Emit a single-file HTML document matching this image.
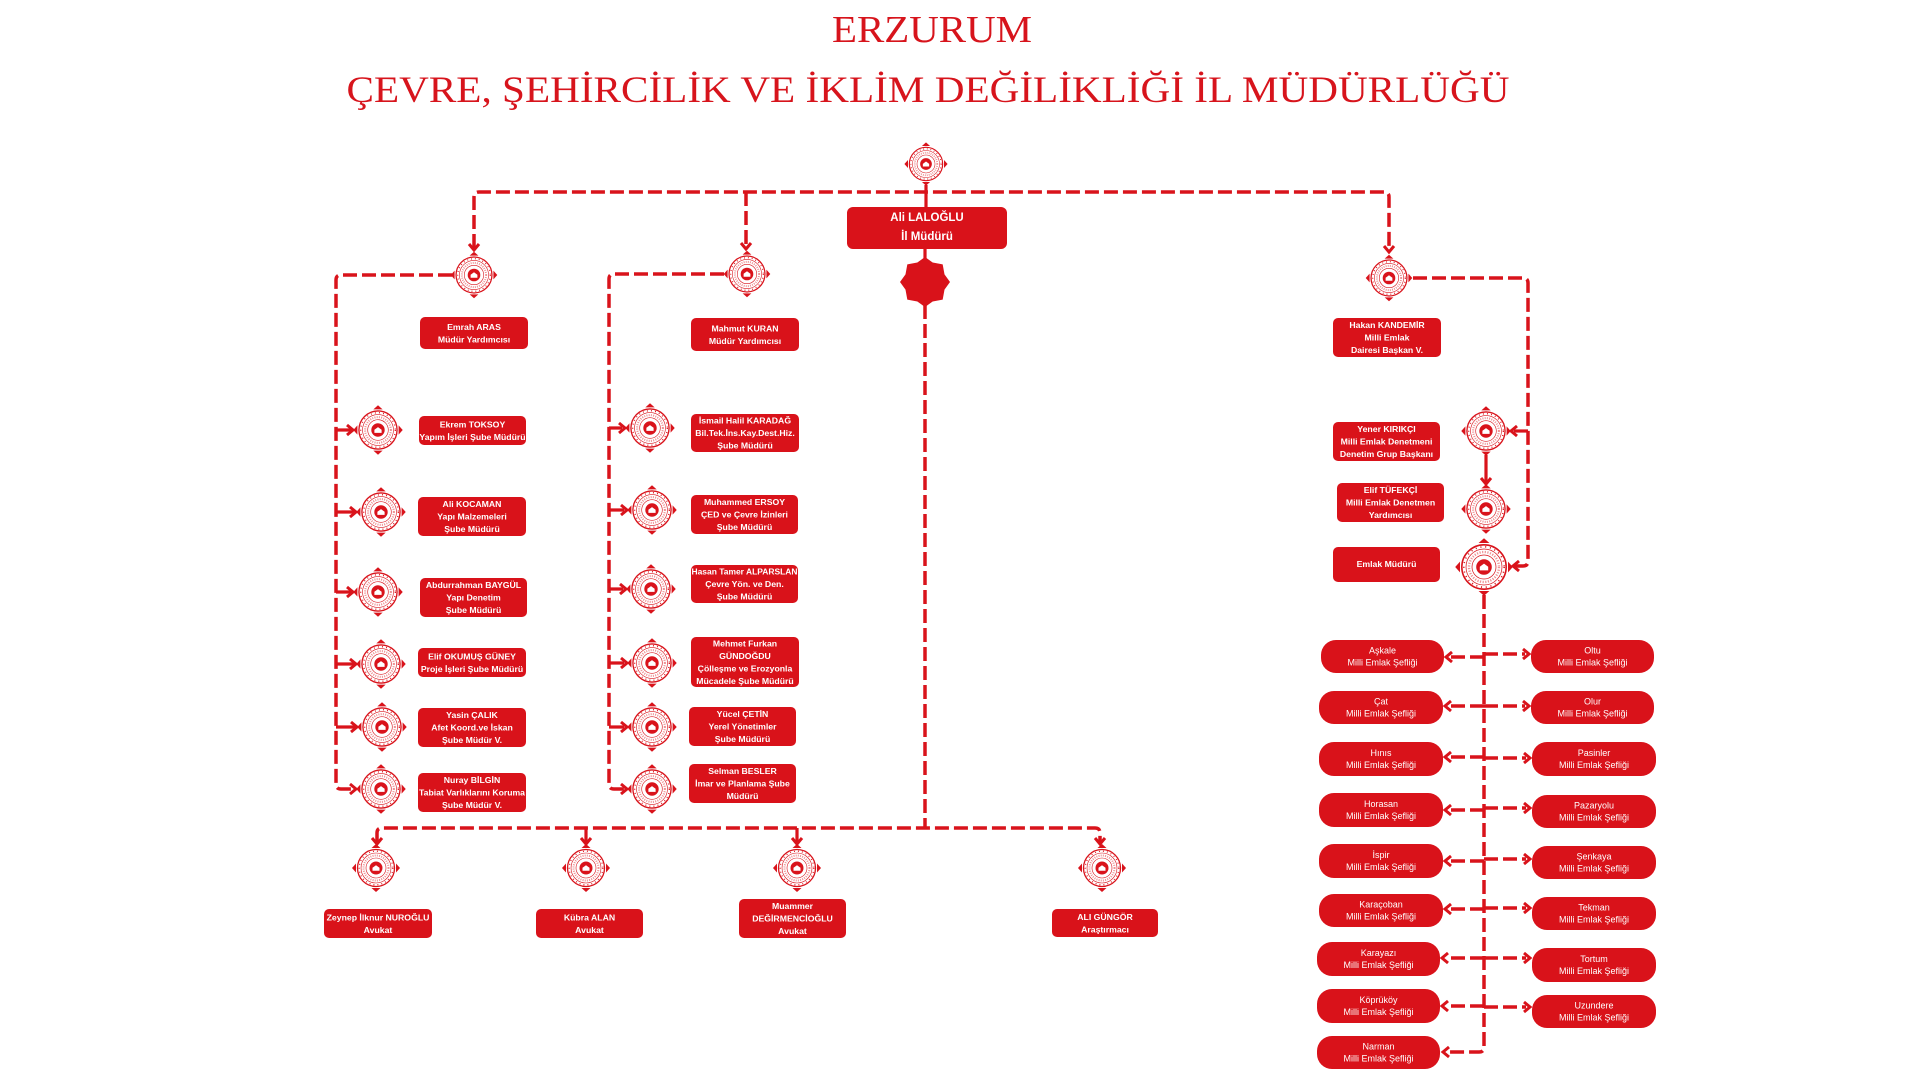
<!DOCTYPE html>
<html><head><meta charset="utf-8"><style>
html,body{margin:0;padding:0;background:#fff;width:1920px;height:1080px;overflow:hidden}
svg{display:block}
.t{font-family:"Liberation Sans",Arial,sans-serif;font-weight:bold;font-size:8.7px;fill:#fff;text-anchor:middle;dominant-baseline:central}
.s{font-family:"Liberation Sans",Arial,sans-serif;font-size:9px;fill:#fff;text-anchor:middle;dominant-baseline:central}
.d{fill:none;stroke:#d9131b;stroke-width:3.5;stroke-dasharray:14 5}
.l{fill:none;stroke:#d9131b;stroke-width:3.2}
.a{fill:none;stroke:#d9131b;stroke-width:3;stroke-linejoin:miter}
.b{fill:#d9121a}
</style></head><body>
<svg width="1920" height="1080" viewBox="0 0 1920 1080" xmlns="http://www.w3.org/2000/svg">
<defs>
<g id="em">
<polygon points="0,-24 -4.5,-20 4.5,-20" fill="#d9131b"/>
<polygon points="0,24 -4.5,20 4.5,20" fill="#d9131b"/>
<polygon points="-24,0 -20,-4.5 -20,4.5" fill="#d9131b"/>
<polygon points="24,0 20,-4.5 20,4.5" fill="#d9131b"/>
<circle r="18.5" fill="#fff" stroke="#d9131b" stroke-width="1.3"/>
<circle r="16.8" fill="none" stroke="#d9131b" stroke-width="1.3" stroke-dasharray="0.9 3.1"/>
<circle r="15" fill="none" stroke="#d9131b" stroke-width="0.6"/>
<circle r="12.5" fill="none" stroke="#e2474d" stroke-width="2" stroke-dasharray="1 1.2" opacity="0.6"/>
<circle r="10" fill="none" stroke="#d9131b" stroke-width="0.6"/>
<circle r="6.5" fill="#d9131b"/>
<path d="M-3.5,2.8 h7 v-3 l-3.5,-2.6 l-3.5,2.6z" fill="#fff"/>
</g>
</defs>

<!-- Titles -->
<text x="932" y="42" font-family="Liberation Serif, serif" font-size="38" fill="#d7141c" text-anchor="middle" textLength="200" lengthAdjust="spacingAndGlyphs">ERZURUM</text>
<text x="928" y="102" font-family="Liberation Serif, serif" font-size="37" fill="#d7141c" text-anchor="middle" textLength="1163" lengthAdjust="spacingAndGlyphs">ÇEVRE, ŞEHİRCİLİK VE İKLİM DEĞİLİKLİĞİ İL MÜDÜRLÜĞÜ</text>

<!-- Top connectors -->
<path class="d" d="M474,248 V197 Q474,192 479,192 H1384 Q1389,192 1389,197 V250"/>
<path class="d" d="M746,192 V247"/>
<polyline class="a" points="469,244 474,250 479,244"/>
<polyline class="a" points="741,243 746,249 751,243"/>
<polyline class="a" points="1384,246 1389,252 1394,246"/>
<path class="l" d="M926,185 V208"/>
<path class="l" d="M925,248 V260"/>
<path class="d" d="M925,305 V828"/>

<!-- Left group -->
<path class="d" d="M452,275 H341 Q336,275 336,280 V784 Q336,789 341,789 H354"/>
<path class="l" d="M336,430 H351 M336,512 H354 M336,592 H351 M336,664 H354 M336,727 H355"/>
<polyline class="a" points="347,425 353,430 347,435"/>
<polyline class="a" points="350,507 356,512 350,517"/>
<polyline class="a" points="347,587 353,592 347,597"/>
<polyline class="a" points="350,659 356,664 350,669"/>
<polyline class="a" points="351,722 357,727 351,732"/>
<polyline class="a" points="350,784 356,789 350,794"/>

<!-- Middle group -->
<path class="d" d="M724,274 H614 Q609,274 609,279 V784 Q609,789 614,789 H625"/>
<path class="l" d="M609,428 H622 M609,510 H624 M609,589 H623 M609,663 H624 M609,727 H624"/>
<polyline class="a" points="619,423 625,428 619,433"/>
<polyline class="a" points="621,505 627,510 621,515"/>
<polyline class="a" points="620,584 626,589 620,594"/>
<polyline class="a" points="621,658 627,663 621,668"/>
<polyline class="a" points="621,722 627,727 621,732"/>
<polyline class="a" points="621,784 627,789 621,794"/>

<!-- Right group -->
<path class="d" d="M1413,278 H1523 Q1528,278 1528,283 V561 Q1528,566 1523,566 H1515"/>
<path class="l" d="M1528,431 H1514"/>
<polyline class="a" points="1517,426 1511,431 1517,436"/>
<polyline class="a" points="1519,561 1513,566 1519,571"/>
<path class="l" d="M1486,455 V482"/>
<polyline class="a" points="1481,478 1486,484 1491,478"/>
<path class="d" d="M1484,595 V1047 Q1484,1052 1479,1052 H1447"/>
<polyline class="a" points="1449,1047 1443,1052 1449,1057"/>

<!-- Şeflik arrows -->
<g>
<path class="d" d="M1484,657 H1449 M1484,706 H1449 M1484,757 H1449 M1484,810 H1449 M1484,861 H1449 M1484,909 H1449 M1484,958 H1446 M1484,1006 H1446"/>
<path class="d" d="M1484,654 H1525 M1484,706 H1525 M1484,758 H1526 M1484,808 H1526 M1484,859 H1526 M1484,908 H1526 M1484,958 H1526 M1484,1007 H1526"/>
<polyline class="a" points="1452,652 1446,657 1452,662"/>
<polyline class="a" points="1451,701 1445,706 1451,711"/>
<polyline class="a" points="1451,752 1445,757 1451,762"/>
<polyline class="a" points="1451,805 1445,810 1451,815"/>
<polyline class="a" points="1451,856 1445,861 1451,866"/>
<polyline class="a" points="1451,904 1445,909 1451,914"/>
<polyline class="a" points="1448,953 1442,958 1448,963"/>
<polyline class="a" points="1448,1001 1442,1006 1448,1011"/>
<polyline class="a" points="1523,649 1529,654 1523,659"/>
<polyline class="a" points="1523,701 1529,706 1523,711"/>
<polyline class="a" points="1524,753 1530,758 1524,763"/>
<polyline class="a" points="1524,803 1530,808 1524,813"/>
<polyline class="a" points="1524,854 1530,859 1524,864"/>
<polyline class="a" points="1524,903 1530,908 1524,913"/>
<polyline class="a" points="1524,953 1530,958 1524,963"/>
<polyline class="a" points="1524,1002 1530,1007 1524,1012"/>
</g>

<!-- Bottom connectors -->
<path class="d" d="M377,842 V833 Q377,828 382,828 H1095 Q1100,828 1100,833 V842"/>
<path class="l" d="M586,828 V842 M797,828 V842"/>
<polyline class="a" points="372,838 377,844 382,838"/>
<polyline class="a" points="581,838 586,844 591,838"/>
<polyline class="a" points="792,838 797,844 802,838"/>
<polyline class="a" points="1095,838 1100,844 1105,838"/>

<!-- Emblems -->
<use href="#em" transform="translate(926,164) scale(0.9)"/>
<use href="#em" transform="translate(474,275) scale(0.97)"/>
<use href="#em" transform="translate(747,274) scale(0.97)"/>
<use href="#em" transform="translate(1389,278) scale(0.97)"/>
<use href="#em" transform="translate(378,430) scale(1.03)"/>
<use href="#em" transform="translate(381,512) scale(1.03)"/>
<use href="#em" transform="translate(378,592) scale(1.03)"/>
<use href="#em" transform="translate(381,664) scale(1.03)"/>
<use href="#em" transform="translate(382,727) scale(1.03)"/>
<use href="#em" transform="translate(381,789) scale(1.03)"/>
<use href="#em" transform="translate(650,428) scale(1.03)"/>
<use href="#em" transform="translate(652,510) scale(1.03)"/>
<use href="#em" transform="translate(651,589) scale(1.03)"/>
<use href="#em" transform="translate(652,663) scale(1.03)"/>
<use href="#em" transform="translate(652,727) scale(1.03)"/>
<use href="#em" transform="translate(652,789) scale(1.03)"/>
<use href="#em" transform="translate(1486,431) scale(1.03)"/>
<use href="#em" transform="translate(1486,509) scale(1.03)"/>
<use href="#em" transform="translate(1484,567) scale(1.2)"/>
<use href="#em" transform="translate(376,868) scale(1)"/>
<use href="#em" transform="translate(586,868) scale(1)"/>
<use href="#em" transform="translate(797,868) scale(1)"/>
<use href="#em" transform="translate(1102,868) scale(1)"/>

<!-- Center star -->
<polygon class="b" points="0,-25 7.65,-19.5 17.68,-17.68 19.5,-7.65 25,0 19.5,7.65 17.68,17.68 7.65,19.5 0,25 -7.65,19.5 -17.68,17.68 -19.5,7.65 -25,0 -19.5,-7.65 -17.68,-17.68 -7.65,-19.5" transform="translate(925,282)"/>

<!-- Director -->
<rect class="b" x="847" y="207" width="160" height="42" rx="6"/>
<text class="t" x="927" y="218" style="font-size:11.5px">Ali LALOĞLU</text>
<text class="t" x="927" y="237" style="font-size:11.5px">İl Müdürü</text>

<!-- Bold boxes -->
<rect class="b" x="420" y="317" width="108" height="32" rx="5"/>
<text class="t" x="474" y="326.75">Emrah ARAS</text><text class="t" x="474" y="339.25">Müdür Yardımcısı</text>

<rect class="b" x="691" y="318" width="108" height="33" rx="5"/>
<text class="t" x="745" y="328.25">Mahmut KURAN</text><text class="t" x="745" y="340.75">Müdür Yardımcısı</text>

<rect class="b" x="419" y="416" width="107" height="29" rx="5"/>
<text class="t" x="472.5" y="424.25">Ekrem TOKSOY</text><text class="t" x="472.5" y="436.75">Yapım İşleri Şube Müdürü</text>

<rect class="b" x="418" y="497" width="108" height="39" rx="5"/>
<text class="t" x="472" y="504">Ali KOCAMAN</text><text class="t" x="472" y="516.5">Yapı Malzemeleri</text><text class="t" x="472" y="529">Şube Müdürü</text>

<rect class="b" x="420" y="578" width="107" height="39" rx="5"/>
<text class="t" x="473.5" y="585">Abdurrahman BAYGÜL</text><text class="t" x="473.5" y="597.5">Yapı Denetim</text><text class="t" x="473.5" y="610">Şube Müdürü</text>

<rect class="b" x="418" y="648" width="108" height="29" rx="5"/>
<text class="t" x="472" y="656.25">Elif OKUMUŞ GÜNEY</text><text class="t" x="472" y="668.75">Proje İşleri Şube Müdürü</text>

<rect class="b" x="418" y="708" width="108" height="39" rx="5"/>
<text class="t" x="472" y="715">Yasin ÇALIK</text><text class="t" x="472" y="727.5">Afet Koord.ve İskan</text><text class="t" x="472" y="740">Şube Müdür V.</text>

<rect class="b" x="418" y="773" width="108" height="39" rx="5"/>
<text class="t" x="472" y="780">Nuray BİLGİN</text><text class="t" x="472" y="792.5" textLength="106" lengthAdjust="spacingAndGlyphs">Tabiat Varlıklarını Koruma</text><text class="t" x="472" y="805">Şube Müdür V.</text>

<rect class="b" x="691" y="414" width="108" height="38" rx="5"/>
<text class="t" x="745" y="420.5">İsmail Halil KARADAĞ</text><text class="t" x="745" y="433">Bil.Tek.İns.Kay.Dest.Hiz.</text><text class="t" x="745" y="445.5">Şube Müdürü</text>

<rect class="b" x="691" y="495" width="107" height="39" rx="5"/>
<text class="t" x="744.5" y="502">Muhammed ERSOY</text><text class="t" x="744.5" y="514.5">ÇED ve Çevre İzinleri</text><text class="t" x="744.5" y="527">Şube Müdürü</text>

<rect class="b" x="691" y="565" width="107" height="38" rx="5"/>
<text class="t" x="744.5" y="571.5" textLength="106" lengthAdjust="spacingAndGlyphs">Hasan Tamer ALPARSLAN</text><text class="t" x="744.5" y="584">Çevre Yön. ve Den.</text><text class="t" x="744.5" y="596.5">Şube Müdürü</text>

<rect class="b" x="691" y="637" width="108" height="50" rx="5"/>
<text class="t" x="745" y="643.25">Mehmet Furkan</text><text class="t" x="745" y="655.75">GÜNDOĞDU</text><text class="t" x="745" y="668.25">Çölleşme ve Erozyonla</text><text class="t" x="745" y="680.75">Mücadele Şube Müdürü</text>

<rect class="b" x="689" y="707" width="107" height="39" rx="5"/>
<text class="t" x="742.5" y="714">Yücel ÇETİN</text><text class="t" x="742.5" y="726.5">Yerel Yönetimler</text><text class="t" x="742.5" y="739">Şube Müdürü</text>

<rect class="b" x="689" y="764" width="107" height="39" rx="5"/>
<text class="t" x="742.5" y="771">Selman BESLER</text><text class="t" x="742.5" y="783.5">İmar ve Planlama Şube</text><text class="t" x="742.5" y="796">Müdürü</text>

<rect class="b" x="324" y="909" width="108" height="29" rx="5"/>
<text class="t" x="378" y="917.25">Zeynep İlknur NUROĞLU</text><text class="t" x="378" y="929.75">Avukat</text>

<rect class="b" x="536" y="909" width="107" height="29" rx="5"/>
<text class="t" x="589.5" y="917.25">Kübra ALAN</text><text class="t" x="589.5" y="929.75">Avukat</text>

<rect class="b" x="739" y="899" width="107" height="39" rx="5"/>
<text class="t" x="792.5" y="906">Muammer</text><text class="t" x="792.5" y="918.5">DEĞİRMENCİOĞLU</text><text class="t" x="792.5" y="931">Avukat</text>

<rect class="b" x="1052" y="909" width="106" height="28" rx="5"/>
<text class="t" x="1105" y="916.75">ALI GÜNGÖR</text><text class="t" x="1105" y="929.25">Araştırmacı</text>

<rect class="b" x="1333" y="318" width="108" height="39" rx="5"/>
<text class="t" x="1387" y="325">Hakan KANDEMİR</text><text class="t" x="1387" y="337.5">Milli Emlak</text><text class="t" x="1387" y="350">Dairesi Başkan V.</text>

<rect class="b" x="1333" y="422" width="107" height="39" rx="5"/>
<text class="t" x="1386.5" y="429">Yener KIRIKÇI</text><text class="t" x="1386.5" y="441.5">Milli Emlak Denetmeni</text><text class="t" x="1386.5" y="454">Denetim Grup Başkanı</text>

<rect class="b" x="1337" y="483" width="107" height="39" rx="5"/>
<text class="t" x="1390.5" y="490">Elif TÜFEKÇİ</text><text class="t" x="1390.5" y="502.5">Milli Emlak Denetmen</text><text class="t" x="1390.5" y="515">Yardımcısı</text>

<rect class="b" x="1333" y="547" width="107" height="35" rx="5"/>
<text class="t" x="1386.5" y="564">Emlak Müdürü</text>

<!-- Şeflik boxes left -->
<rect class="b" x="1321" y="640" width="123" height="33" rx="15"/>
<text class="s" x="1382.5" y="650.5">Aşkale</text><text class="s" x="1382.5" y="662.5">Milli Emlak Şefliği</text>
<rect class="b" x="1319" y="691" width="124" height="33" rx="15"/>
<text class="s" x="1381" y="701.5">Çat</text><text class="s" x="1381" y="713.5">Milli Emlak Şefliği</text>
<rect class="b" x="1319" y="742" width="124" height="34" rx="15"/>
<text class="s" x="1381" y="753">Hınıs</text><text class="s" x="1381" y="765">Milli Emlak Şefliği</text>
<rect class="b" x="1319" y="793" width="124" height="34" rx="15"/>
<text class="s" x="1381" y="804">Horasan</text><text class="s" x="1381" y="816">Milli Emlak Şefliği</text>
<rect class="b" x="1319" y="844" width="124" height="34" rx="15"/>
<text class="s" x="1381" y="855">İspir</text><text class="s" x="1381" y="867">Milli Emlak Şefliği</text>
<rect class="b" x="1319" y="894" width="124" height="33" rx="15"/>
<text class="s" x="1381" y="904.5">Karaçoban</text><text class="s" x="1381" y="916.5">Milli Emlak Şefliği</text>
<rect class="b" x="1317" y="942" width="123" height="34" rx="15"/>
<text class="s" x="1378.5" y="953">Karayazı</text><text class="s" x="1378.5" y="965">Milli Emlak Şefliği</text>
<rect class="b" x="1317" y="989" width="123" height="34" rx="15"/>
<text class="s" x="1378.5" y="1000">Köprüköy</text><text class="s" x="1378.5" y="1012">Milli Emlak Şefliği</text>
<rect class="b" x="1317" y="1036" width="123" height="33" rx="15"/>
<text class="s" x="1378.5" y="1046.5">Narman</text><text class="s" x="1378.5" y="1058.5">Milli Emlak Şefliği</text>

<!-- Şeflik boxes right -->
<rect class="b" x="1531" y="640" width="123" height="33" rx="15"/>
<text class="s" x="1592.5" y="650.5">Oltu</text><text class="s" x="1592.5" y="662.5">Milli Emlak Şefliği</text>
<rect class="b" x="1531" y="691" width="123" height="33" rx="15"/>
<text class="s" x="1592.5" y="701.5">Olur</text><text class="s" x="1592.5" y="713.5">Milli Emlak Şefliği</text>
<rect class="b" x="1532" y="742" width="124" height="34" rx="15"/>
<text class="s" x="1594" y="753">Pasinler</text><text class="s" x="1594" y="765">Milli Emlak Şefliği</text>
<rect class="b" x="1532" y="795" width="124" height="33" rx="15"/>
<text class="s" x="1594" y="805.5">Pazaryolu</text><text class="s" x="1594" y="817.5">Milli Emlak Şefliği</text>
<rect class="b" x="1532" y="846" width="124" height="33" rx="15"/>
<text class="s" x="1594" y="856.5">Şenkaya</text><text class="s" x="1594" y="868.5">Milli Emlak Şefliği</text>
<rect class="b" x="1532" y="897" width="124" height="33" rx="15"/>
<text class="s" x="1594" y="907.5">Tekman</text><text class="s" x="1594" y="919.5">Milli Emlak Şefliği</text>
<rect class="b" x="1532" y="948" width="124" height="34" rx="15"/>
<text class="s" x="1594" y="959">Tortum</text><text class="s" x="1594" y="971">Milli Emlak Şefliği</text>
<rect class="b" x="1532" y="995" width="124" height="33" rx="15"/>
<text class="s" x="1594" y="1005.5">Uzundere</text><text class="s" x="1594" y="1017.5">Milli Emlak Şefliği</text>
</svg>
</body></html>
